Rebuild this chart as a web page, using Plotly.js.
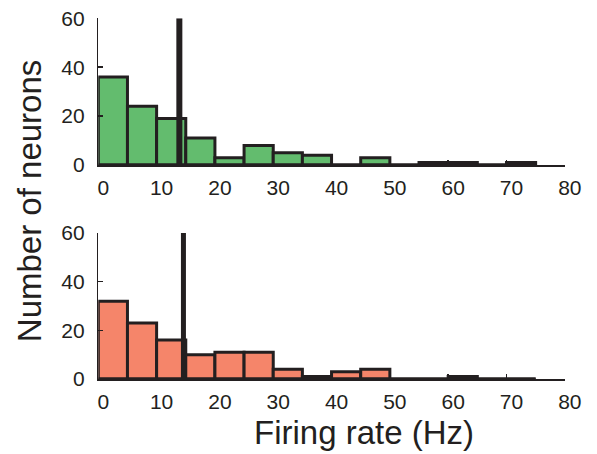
<!DOCTYPE html>
<html>
<head>
<meta charset="utf-8">
<script src="https://cdn.plot.ly/plotly-3.0.1.min.js"></script>
<style>html,body{margin:0;padding:0;background:#fff;}#chart{width:597px;height:454px;}</style>
</head>
<body>
<div id="chart"></div>
<script>
// ---- data ----
const binCenters = [2.5, 7.5, 12.5, 17.5, 22.5, 27.5, 32.5, 37.5, 42.5, 47.5, 52.5, 57.5, 62.5, 67.5, 72.5];
const binWidth = 5;
const topCounts = [36, 24, 19, 11, 3, 8, 5, 4, 0, 3, 0, 1, 1, 0, 1];
const bottomCounts = [32, 23, 16, 10, 11, 11, 4, 1, 3, 4, 0, 0, 1, 0, 0];
const topMarker = 13.9;
const bottomMarker = 14.6;
const xTicks = [0, 10, 20, 30, 40, 50, 60, 70, 80];
const yTicks = [0, 20, 40, 60];
const yTitle = "Number of neurons";
const xTitle = "Firing rate (Hz)";

// ---- styling ----
const W = 597, H = 454;
const ink = "#231f20";
const green = "#63bc6e";
const salmon = "#f5856a";
const font = "Liberation Sans, Arial, Helvetica, sans-serif";

const binLo = binCenters[0] - binWidth / 2;
const binHi = binCenters[binCenters.length - 1] + binWidth / 2;
const yMax = yTicks[yTicks.length - 1];

function barTrace(counts, color, xa, ya) {
  return {type: "bar", x: binCenters, y: counts, width: binWidth,
    marker: {color: color, line: {color: ink, width: 3}},
    xaxis: xa, yaxis: ya, hoverinfo: "skip"};
}
function baseTrace(xa, ya) {
  return {type: "scatter", mode: "lines", x: [binLo, binHi], y: [0, 0],
    line: {color: ink, width: 3}, xaxis: xa, yaxis: ya, hoverinfo: "skip"};
}
function markTrace(m, w, xa, ya) {
  return {type: "scatter", mode: "lines", x: [m, m], y: [0, yMax],
    line: {color: ink, width: w}, xaxis: xa, yaxis: ya, hoverinfo: "skip"};
}

const data = [
  barTrace(topCounts, green, "x", "y"),
  baseTrace("x", "y"),
  markTrace(topMarker, 6, "x", "y"),
  barTrace(bottomCounts, salmon, "x2", "y2"),
  baseTrace("x2", "y2"),
  markTrace(bottomMarker, 5, "x2", "y2")
];

const xDom = [98.3 / W, 564.8 / W];
function xAxis(anchor) {
  return {domain: xDom, anchor: anchor, range: [0, xTicks[xTicks.length - 1]],
    tickmode: "array", tickvals: xTicks, ticktext: xTicks.map(String),
    showline: true, linecolor: ink, linewidth: 1.5,
    ticks: "inside", ticklen: 5, tickwidth: 1.5, tickcolor: ink,
    ticklabelshift: 5, ticklabelstandoff: 3,
    showgrid: false, zeroline: false,
    tickfont: {family: font, size: 21, color: ink}, fixedrange: true};
}
function yAxis(anchor, top, bottom) {
  return {domain: [1 - bottom / H, 1 - top / H], anchor: anchor, range: [0, yMax],
    tickmode: "array", tickvals: yTicks, ticktext: yTicks.map(String),
    showline: true, linecolor: ink, linewidth: 1.5,
    ticks: "inside", ticklen: 5, tickwidth: 1.5, tickcolor: ink,
    ticklabelstandoff: 8,
    showgrid: false, zeroline: false,
    tickfont: {family: font, size: 21, color: ink}, fixedrange: true};
}

const layout = {
  width: W, height: H,
  margin: {l: 0, r: 0, t: 0, b: 0},
  paper_bgcolor: "#fff", plot_bgcolor: "rgba(0,0,0,0)",
  showlegend: false, bargap: 0,
  xaxis: xAxis("y"),
  yaxis: yAxis("x", 18.3, 165),
  xaxis2: xAxis("y2"),
  yaxis2: yAxis("x2", 233, 379),
  annotations: [
    {text: yTitle, xref: "paper", yref: "paper", x: 29.5 / W, y: 1 - 201.7 / H,
     xanchor: "center", yanchor: "middle", textangle: -90, showarrow: false,
     font: {family: font, size: 33, color: ink}},
    {text: xTitle, xref: "paper", yref: "paper", x: 363.5 / W, y: 1 - 432.5 / H,
     xanchor: "center", yanchor: "middle", showarrow: false,
     font: {family: font, size: 33, color: ink}}
  ]
};

Plotly.newPlot("chart", data, layout, {staticPlot: true, displayModeBar: false});
</script>
</body>
</html>
